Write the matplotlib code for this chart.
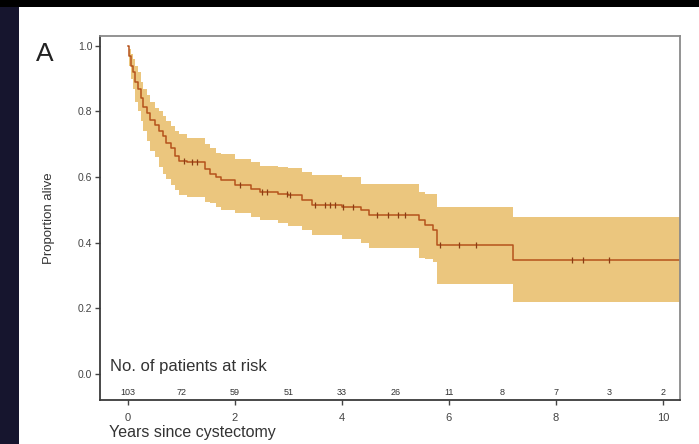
import numpy as np
import matplotlib.pyplot as plt
from matplotlib.patches import Rectangle

plt.rcParams['font.family'] = ['Liberation Sans', 'DejaVu Sans']

# Kaplan-Meier estimate with 95% CI (step values start at each time)
km_time = [0.00, 0.03, 0.06, 0.10, 0.14, 0.19, 0.24, 0.29, 0.36, 0.42, 0.50, 0.58,
           0.65, 0.72, 0.80, 0.88, 0.95, 1.10, 1.45, 1.53, 1.65, 1.75, 2.00, 2.30,
           2.47, 2.80, 3.00, 3.25, 3.45, 4.00, 4.35, 4.50, 5.45, 5.55, 5.70, 5.78, 7.20]
km_surv = [1.00, 0.97, 0.94, 0.92, 0.89, 0.87, 0.84, 0.815, 0.795, 0.775, 0.76, 0.74,
           0.725, 0.705, 0.69, 0.665, 0.65, 0.645, 0.625, 0.61, 0.60, 0.59, 0.576, 0.565,
           0.556, 0.55, 0.546, 0.53, 0.515, 0.508, 0.50, 0.485, 0.47, 0.455, 0.44, 0.393, 0.348]
km_upper = [1.00, 0.99, 0.975, 0.96, 0.94, 0.92, 0.89, 0.87, 0.85, 0.83, 0.81, 0.80,
            0.785, 0.77, 0.755, 0.74, 0.73, 0.72, 0.70, 0.69, 0.675, 0.67, 0.655, 0.645,
            0.635, 0.63, 0.627, 0.615, 0.605, 0.60, 0.58, 0.58, 0.555, 0.55, 0.55, 0.51, 0.48]
km_lower = [1.00, 0.94, 0.90, 0.87, 0.83, 0.80, 0.77, 0.74, 0.71, 0.68, 0.66, 0.63,
            0.61, 0.595, 0.575, 0.56, 0.545, 0.54, 0.525, 0.52, 0.51, 0.50, 0.49, 0.48,
            0.47, 0.46, 0.45, 0.44, 0.425, 0.41, 0.40, 0.385, 0.355, 0.35, 0.34, 0.275, 0.22]

censor_times = [1.05, 1.2, 1.3, 2.09, 2.5, 2.6, 2.97, 3.03, 3.5, 3.68, 3.78, 3.87,
                4.02, 4.2, 4.65, 4.86, 5.05, 5.18, 5.83, 6.19, 6.5, 8.3, 8.5, 9.0]

risk_years = [0, 1, 2, 3, 4, 5, 6, 7, 8, 9, 10]
at_risk = [103, 72, 59, 51, 33, 26, 11, 8, 7, 3, 2]

t_end = 10.32
xt = np.append(km_time, t_end)
s = np.append(km_surv, km_surv[-1])
up = np.append(km_upper, km_upper[-1])
lo = np.append(km_lower, km_lower[-1])

W, H = 699, 444
fig = plt.figure(figsize=(W / 100, H / 100), dpi=100)
fig.patch.set_facecolor('black')
# dark side strip and white slide panel, kept behind the axes
fig.patches.append(Rectangle((0, 0), 19 / W, 437 / H, transform=fig.transFigure,
                             facecolor='#16152e', edgecolor='none', zorder=-10))
fig.patches.append(Rectangle((19 / W, 0), 1, 437 / H, transform=fig.transFigure,
                             facecolor='white', edgecolor='none', zorder=-10))

ax = fig.add_axes([100 / W, 44 / H, 580 / W, 364 / H])
ax.set_facecolor('white')

ax.fill_between(xt, lo, up, step='post', color='#ebc67e', linewidth=0, zorder=1)
ax.step(xt, s, where='post', color='#b5521c', linewidth=1.1, zorder=2)

# censoring ticks on the curve
idx = np.searchsorted(km_time, censor_times, side='right') - 1
ax.plot(censor_times, np.array(km_surv)[idx], linestyle='none', marker='|',
        markersize=4, markeredgewidth=0.9, color='#8a3c14', zorder=3)

ax.set_xlim(-0.52, t_end)
ax.set_ylim(-0.079, 1.03)
ax.set_xticks([0, 2, 4, 6, 8, 10])
ax.set_yticks([0.0, 0.2, 0.4, 0.6, 0.8, 1.0])
ax.set_yticklabels(['0.0', '0.2', '0.4', '0.6', '0.8', '1.0'])
ax.tick_params(axis='both', direction='out', length=3.5, width=1, color='#444444')
ax.tick_params(axis='x', labelsize=8, labelcolor='#444444', pad=6)
ax.tick_params(axis='y', labelsize=7.5, labelcolor='#444444', pad=2)

for side in ['left', 'bottom']:
    ax.spines[side].set_color('#3a3a3a')
    ax.spines[side].set_linewidth(1.3)
for side in ['top', 'right']:
    ax.spines[side].set_color('#8a8a8a')
    ax.spines[side].set_linewidth(1.3)

# numbers at risk row
ax.text(-0.34, 0.022, 'No. of patients at risk', fontsize=12, color='#333333',
        va='center', ha='left')
for yr, n in zip(risk_years, at_risk):
    ax.text(yr, -0.055, str(n), fontsize=6.5, color='#333333', ha='center', va='center')

fig.text(49 / W, 1 - 218 / H, 'Proportion alive', rotation=90, fontsize=9.5,
         color='#333333', ha='center', va='center')
fig.text(109 / W, 1 - 432 / H, 'Years since cystectomy', fontsize=11.5,
         color='#333333', ha='left', va='center')
fig.text(36 / W, 1 - 61 / H, 'A', fontsize=19, color='#222222',
         ha='left', va='baseline')

fig.savefig('out.png', dpi=100, facecolor=fig.get_facecolor())
